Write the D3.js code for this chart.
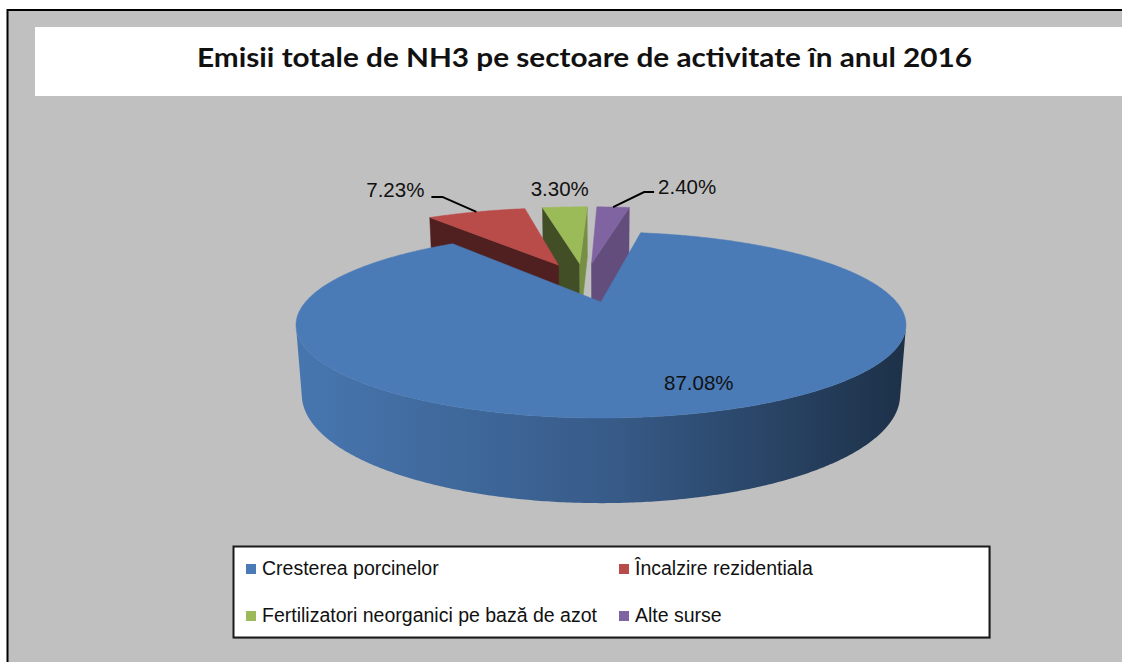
<!DOCTYPE html>
<html><head><meta charset="utf-8">
<script src="https://cdn.jsdelivr.net/npm/d3@7"></script>
<style>html,body{margin:0;padding:0;background:#fff;overflow:hidden}</style>
</head><body>
<script>
// ---------- data ----------
const title = "Emisii totale de NH3 pe sectoare de activitate în anul 2016";
const categories = ["Cresterea porcinelor", "Încalzire rezidentiala", "Fertilizatori neorganici pe bază de azot", "Alte surse"];
const values = [87.08, 7.23, 3.30, 2.40];
const valueLabels = ["87.08%", "7.23%", "3.30%", "2.40%"];
const colors = ["#4a7bb7", "#b94b48", "#9bbb59", "#8064a2"];

// ---------- layout ----------
const W = 1122, H = 662;
const svg = d3.select("body").append("svg").attr("width", W).attr("height", H);
const defs = svg.append("defs");

svg.append("rect").attr("x", 7.5).attr("y", 10).attr("width", W + 10).attr("height", H + 10)
  .attr("fill", "#c0c0c0").attr("stroke", "#000").attr("stroke-width", 2);

svg.append("rect").attr("x", 35).attr("y", 27).attr("width", W).attr("height", 69).attr("fill", "#fff");
svg.append("text").attr("x", 197).attr("y", 67)
  .attr("font-family", "Lato, 'Open Sans', sans-serif").attr("font-weight", 700)
  .attr("font-size", 26).attr("fill", "#111")
  .attr("textLength", 775).attr("lengthAdjust", "spacingAndGlyphs")
  .text(title);

// ---------- 3D pie projection ----------
const rad = Math.PI / 180;
const view = {cx: 601, cy: 302, f: 1141.6, D: 3.863, sin: 0.2955, h: 0.24, explode: 0.25, startDeg: 9.6};
const vcos = Math.sqrt(1 - view.sin * view.sin);
function project(X, Y, Z) {
  const yc = Y * vcos + Z * view.sin;
  const zc = view.D + Z * vcos - Y * view.sin;
  return [view.cx + view.f * X / zc, view.cy - view.f * yc / zc];
}
const cam = [0, view.D * view.sin, -view.D * vcos];
const pie = d3.pie().sort(null)
  .startAngle(view.startDeg * rad).endAngle(view.startDeg * rad + 2 * Math.PI);
const arcs = pie(values);
const mainMid = (arcs[0].startAngle + arcs[0].endAngle) / 2;
arcs.forEach((d, i) => {
  d.i = i;
  d.mid = (d.startAngle + d.endAngle) / 2;
  d.ox = view.explode * (Math.sin(d.mid) - Math.sin(mainMid));
  d.oz = view.explode * (Math.cos(d.mid) - Math.cos(mainMid));
});

const line = d3.line();
function arcPts(d, a0, a1, Y) {
  const n = Math.max(2, Math.ceil(Math.abs(a1 - a0) / (0.5 * rad)));
  return d3.range(n + 1).map(k => {
    const a = a0 + (a1 - a0) * k / n;
    return project(d.ox + Math.sin(a), Y, d.oz + Math.cos(a));
  });
}
function faces(nx, nz, px, pz) { return nx * (cam[0] - px) + nz * (cam[2] - pz) > 0; }

// wall gradients
const ext = arcPts(arcs[0], 0, 2 * Math.PI, 0).map(p => p[0]);
const xMin = d3.min(ext), xMax = d3.max(ext);
arcs.forEach(d => {
  const c = d3.color(colors[d.i]);
  const g = defs.append("linearGradient").attr("id", "wall" + d.i)
    .attr("gradientUnits", "userSpaceOnUse")
    .attr("x1", xMin).attr("x2", xMax).attr("y1", 0).attr("y2", 0);
  g.append("stop").attr("offset", 0).attr("stop-color", c.darker(0.12));
  g.append("stop").attr("offset", 0.5).attr("stop-color", c.darker(0.8));
  g.append("stop").attr("offset", 1).attr("stop-color", c.darker(2.6));
});

const pieG = svg.append("g");
const order = arcs.slice().sort((a, b) => b.oz - a.oz);
const h = view.h;
order.forEach(d => {
  const g = pieG.append("g");
  const col = d3.color(colors[d.i]);
  // outer wall (visible runs)
  const step = 0.5 * rad;
  let runs = [], cur = null;
  for (let a = d.startAngle; a < d.endAngle - 1e-9; a += step) {
    const b = Math.min(a + step, d.endAngle), m = (a + b) / 2;
    const vis = faces(Math.sin(m), Math.cos(m), d.ox + Math.sin(m), d.oz + Math.cos(m));
    if (vis) { if (cur) cur[1] = b; else { cur = [a, b]; runs.push(cur); } }
    else cur = null;
  }
  runs.forEach(r => {
    const pts = arcPts(d, r[0], r[1], 0).concat(arcPts(d, r[1], r[0], -h));
    g.append("path").attr("d", line(pts) + "Z").attr("fill", `url(#wall${d.i})`);
  });
  const a0 = d.startAngle, a1 = d.endAngle;
  const O = [project(d.ox, 0, d.oz), project(d.ox, -h, d.oz)];
  if (faces(-Math.cos(a0), Math.sin(a0), d.ox, d.oz)) {
    const pts = [O[0], arcPts(d, a0, a0, 0)[0], arcPts(d, a0, a0, -h)[0], O[1]];
    g.append("path").attr("d", line(pts) + "Z").attr("fill", col.darker(2.4))
      .attr("stroke", col.darker(2.4)).attr("stroke-width", 0.5);
  }
  if (faces(Math.cos(a1), -Math.sin(a1), d.ox, d.oz)) {
    const pts = [O[0], arcPts(d, a1, a1, 0)[0], arcPts(d, a1, a1, -h)[0], O[1]];
    g.append("path").attr("d", line(pts) + "Z").attr("fill", col.darker(0.75))
      .attr("stroke", col.darker(0.75)).attr("stroke-width", 0.5);
  }
  const top = [O[0]].concat(arcPts(d, a0, a1, 0));
  g.append("path").attr("d", line(top) + "Z").attr("fill", col)
    .attr("stroke", col).attr("stroke-width", 0.5);
});

// ---------- data labels ----------
const labelFont = "'Liberation Sans', Arial, sans-serif";
const labG = svg.append("g").attr("font-family", labelFont).attr("font-size", 20.5).attr("fill", "#111");
arcs.forEach(d => {
  if (d.i === 0) {
    const a = d.mid - 6 * rad, r = 0.8;
    const P = project(d.ox + r * Math.sin(a), 0, d.oz + r * Math.cos(a));
    labG.append("text").attr("x", P[0]).attr("y", P[1] + 7).attr("text-anchor", "middle").text(valueLabels[d.i]);
    return;
  }
  const P = project(d.ox + Math.sin(d.mid), 0, d.oz + Math.cos(d.mid));
  const sx = Math.sin(d.mid);
  if (sx < -0.2) {
    const pts = [P, [P[0] - 34, P[1] - 15], [P[0] - 45, P[1] - 15]];
    labG.append("path").attr("d", line(pts)).attr("fill", "none").attr("stroke", "#000").attr("stroke-width", 2);
    labG.append("text").attr("x", P[0] - 52).attr("y", P[1] - 15).attr("text-anchor", "end").text(valueLabels[d.i]);
  } else if (sx > 0.05) {
    const pts = [P, [P[0] + 31, P[1] - 15], [P[0] + 41, P[1] - 15]];
    labG.append("path").attr("d", line(pts)).attr("fill", "none").attr("stroke", "#000").attr("stroke-width", 2);
    labG.append("text").attr("x", P[0] + 45).attr("y", P[1] - 13).attr("text-anchor", "start").text(valueLabels[d.i]);
  } else {
    labG.append("text").attr("x", P[0] - 5).attr("y", P[1] - 11).attr("text-anchor", "middle").text(valueLabels[d.i]);
  }
});

// ---------- legend ----------
const leg = svg.append("g").attr("font-family", labelFont).attr("font-size", 19.5).attr("fill", "#111");
leg.append("rect").attr("x", 234.5).attr("y", 547.5).attr("width", 756).attr("height", 91)
  .attr("fill", "none").attr("stroke", "#9a9a9a").attr("stroke-width", 1);
leg.append("rect").attr("x", 233.5).attr("y", 546.5).attr("width", 756).attr("height", 91)
  .attr("fill", "#fff").attr("stroke", "#1a1a1a").attr("stroke-width", 2);
const colX = d3.scaleOrdinal().domain([0, 1]).range([246, 619]);
const rowY = d3.scaleOrdinal().domain([0, 1]).range([575, 622]);
categories.forEach((c, i) => {
  const x = colX(i % 2), y = rowY(Math.floor(i / 2));
  leg.append("rect").attr("x", x).attr("y", y - 11).attr("width", 10).attr("height", 10).attr("fill", colors[i]);
  leg.append("text").attr("x", x + 16).attr("y", y).text(c);
});
</script>
</body></html>
